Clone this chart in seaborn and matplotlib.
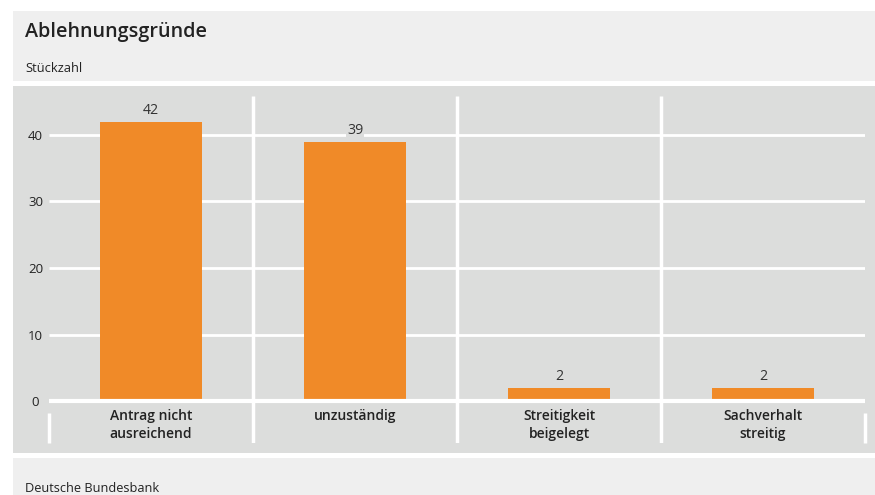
import matplotlib
matplotlib.use("Agg")
import matplotlib.pyplot as plt
import seaborn as sns
import pandas as pd
from matplotlib.patches import Rectangle

categories = ["Antrag nicht\nausreichend", "unzuständig", "Streitigkeit\nbeigelegt", "Sachverhalt\nstreitig"]
values = [42, 39, 2, 2]
yticks = [0, 10, 20, 30, 40]
title = "Ablehnungsgründe"
subtitle = "Stückzahl"
source = "Deutsche Bundesbank"

BAR = "#f08a28"
PANEL = "#dcdddc"
HEAD = "#efefef"
TXT = "#222222"

sns.set_theme(style="white")
plt.rcParams["font.family"] = ["Open Sans", "DejaVu Sans"]

W, H = 875, 495
fig = plt.figure(figsize=(W / 100, H / 100), dpi=100)
fig.patch.set_facecolor("white")

def frect(x0, y0, x1, y1, color):
    fig.patches.append(Rectangle((x0 / W, 1 - y1 / H), (x1 - x0) / W, (y1 - y0) / H,
                                 transform=fig.transFigure, facecolor=color,
                                 edgecolor="none", zorder=-10))

frect(13, 11, 875, 81, HEAD)
frect(13, 86, 875, 453, PANEL)
frect(13, 458, 875, 495, HEAD)

fig.text(25 / W, 1 - 32 / H, title, fontsize=14.2, fontweight="semibold", color=TXT, va="center", ha="left")
fig.text(25 / W, 1 - 68 / H, subtitle, fontsize=9.3, color=TXT, va="center", ha="left")
fig.text(25 / W, 1 - 488 / H, source, fontsize=9.2, color=TXT, va="center", ha="left")

ax_left, ax_right = 49, 865
ax_top, ax_bot = 96, 443
ax = fig.add_axes([ax_left / W, 1 - ax_bot / H, (ax_right - ax_left) / W, (ax_bot - ax_top) / H])
ax.set_facecolor("none")
ax.set_zorder(1)

df = pd.DataFrame({"cat": categories, "val": values})
sns.barplot(data=df, x="cat", y="val", color=BAR, width=0.5, saturation=1,
            ax=ax, zorder=3, edgecolor="none")

# scale: 0 at y=401, 40 at y=135
ppu = (401 - 135) / 40.0
ymin = -(ax_bot - 401) / ppu
ymax = (401 - ax_top) / ppu
ax.set_ylim(ymin, ymax)
ax.set_xlim(-0.5, 3.5)

# gridlines
for t in yticks:
    ax.hlines(t, -0.5, 3.5, color="white", lw=3 if t == 0 else 2, zorder=2 if t else 4)
# category separators
for xs in [0.5, 1.5, 2.5]:
    ax.vlines(xs, ymin, ymax, color="white", lw=2.5, zorder=2)
for xs in [-0.5, 3.5]:
    ax.vlines(xs, ymin, -(413 - 401) / ppu, color="white", lw=2.5, zorder=2, clip_on=False)

for spine in ax.spines.values():
    spine.set_visible(False)
ax.set_xticks([])
ax.set_xlabel("")
ax.set_ylabel("")
ax.set_yticks(yticks)
ax.set_yticklabels([str(t) for t in yticks], fontsize=9.5, color=TXT)
ax.tick_params(axis="y", length=0, pad=9.7)
for lab in ax.get_yticklabels():
    lab.set_horizontalalignment("center")

for i, (c, v) in enumerate(zip(categories, values)):
    ax.text(i, v + 0.6, str(v), ha="center", va="bottom", fontsize=10.2, color="#333333",
            zorder=5, bbox=dict(facecolor=PANEL, edgecolor="none", pad=0.6))
    ax.text(i, -(409 - 401) / ppu, c, ha="center", va="top", fontsize=10,
            fontweight="semibold", color=TXT, linespacing=1.38, zorder=5)

fig.savefig("out.png", dpi=100, facecolor="white")
